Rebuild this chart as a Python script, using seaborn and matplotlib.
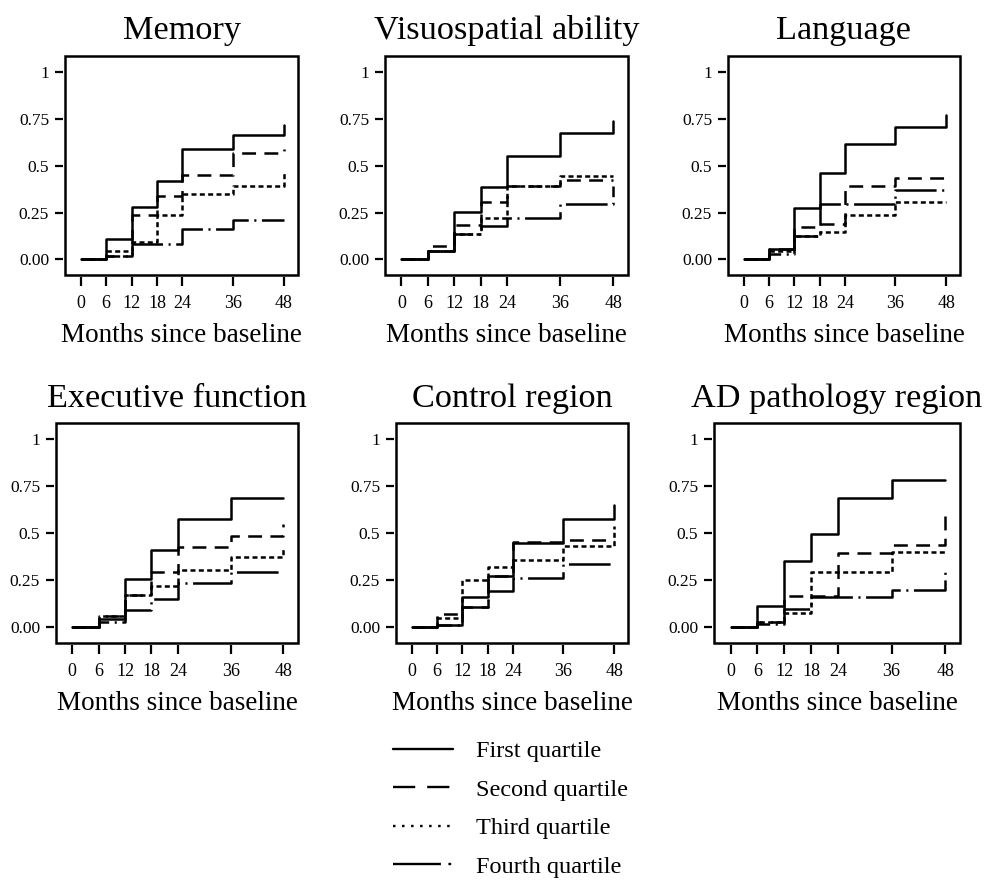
import matplotlib
matplotlib.use("Agg")
import matplotlib.pyplot as plt
import numpy as np
import pandas as pd
import seaborn as sns
from matplotlib.patches import Rectangle
from matplotlib.lines import Line2D

# ---------------- data ----------------
months = [0, 6, 12, 18, 24, 36, 48]
quartiles = ["First quartile", "Second quartile", "Third quartile", "Fourth quartile"]
panels = ["Memory", "Visuospatial ability", "Language",
          "Executive function", "Control region", "AD pathology region"]
x_ticks = [0, 6, 12, 18, 24, 36, 48]
y_ticks = [0, 0.25, 0.5, 0.75, 1]
y_tick_labels = ["0.00", "0.25", "0.5", "0.75", "1"]

memory_q1 = [0, 0.110, 0.278, 0.420, 0.588, 0.662, 0.717]
memory_q2 = [0, 0.018, 0.235, 0.336, 0.451, 0.566, 0.588]
memory_q3 = [0, 0.044, 0.092, 0.235, 0.350, 0.389, 0.469]
memory_q4 = [0, 0.018, 0.083, 0.083, 0.163, 0.212, 0.212]

visuo_q1 = [0, 0.044, 0.253, 0.384, 0.552, 0.673, 0.738]
visuo_q2 = [0, 0.071, 0.182, 0.304, 0.389, 0.421, 0.421]
visuo_q3 = [0, 0.044, 0.133, 0.221, 0.389, 0.446, 0.446]
visuo_q4 = [0, 0.044, 0.133, 0.177, 0.221, 0.296, 0.390]

language_q1 = [0, 0.058, 0.274, 0.460, 0.614, 0.708, 0.770]
language_q2 = [0, 0.058, 0.172, 0.190, 0.389, 0.434, 0.450]
language_q3 = [0, 0.044, 0.124, 0.145, 0.235, 0.304, 0.304]
language_q4 = [0, 0.027, 0.124, 0.297, 0.297, 0.368, 0.368]

exec_q1 = [0, 0.044, 0.258, 0.409, 0.577, 0.684, 0.684]
exec_q2 = [0, 0.062, 0.174, 0.293, 0.426, 0.483, 0.547]
exec_q3 = [0, 0.062, 0.174, 0.217, 0.306, 0.373, 0.426]
exec_q4 = [0, 0.027, 0.092, 0.151, 0.234, 0.293, 0.293]

control_q1 = [0, 0.014, 0.160, 0.275, 0.448, 0.574, 0.648]
control_q2 = [0, 0.071, 0.107, 0.275, 0.455, 0.462, 0.462]
control_q3 = [0, 0.050, 0.249, 0.320, 0.355, 0.432, 0.540]
control_q4 = [0, 0.014, 0.107, 0.192, 0.263, 0.334, 0.334]

ad_q1 = [0, 0.113, 0.354, 0.496, 0.685, 0.779, 0.779]
ad_q2 = [0, 0.030, 0.166, 0.166, 0.396, 0.437, 0.632]
ad_q3 = [0, 0.030, 0.078, 0.296, 0.296, 0.402, 0.402]
ad_q4 = [0, 0.020, 0.100, 0.163, 0.163, 0.200, 0.313]

panel_series = {
    "Memory": [memory_q1, memory_q2, memory_q3, memory_q4],
    "Visuospatial ability": [visuo_q1, visuo_q2, visuo_q3, visuo_q4],
    "Language": [language_q1, language_q2, language_q3, language_q4],
    "Executive function": [exec_q1, exec_q2, exec_q3, exec_q4],
    "Control region": [control_q1, control_q2, control_q3, control_q4],
    "AD pathology region": [ad_q1, ad_q2, ad_q3, ad_q4],
}

rows = []
for p in panels:
    for q, vals in zip(quartiles, panel_series[p]):
        for m, v in zip(months, vals):
            rows.append({"panel": p, "quartile": q, "month": m, "value": v})
df = pd.DataFrame(rows)

# ---------------- style ----------------
sns.set_style("white")
plt.rcParams["font.family"] = ["Liberation Serif", "DejaVu Serif"]
plt.rcParams["lines.scale_dashes"] = False
for k in ["text.color", "axes.labelcolor", "xtick.color", "ytick.color"]:
    plt.rcParams[k] = "black"

W, H = 987, 880
fig = plt.figure(figsize=(W / 100, H / 100), dpi=100)

# axes boxes in pixels: left, top, right, bottom
boxes = [(65, 56, 298, 275), (385, 56, 628, 275), (728, 56, 960, 275),
         (56, 423, 298, 643), (396, 423, 628, 643), (714, 423, 960, 643)]

plot_dashes = {
    "First quartile": "",
    "Second quartile": (10, 6),
    "Third quartile": (3.6, 2.4),
    "Fourth quartile": (30, 4, 1.5, 4),
}

for i, (name, (l, t, r, b)) in enumerate(zip(panels, boxes)):
    ax = fig.add_axes([l / W, 1 - b / H, (r - l) / W, (b - t) / H])
    sub = df[df["panel"] == name]
    sns.lineplot(data=sub, x="month", y="value", style="quartile",
                 style_order=quartiles, dashes=plot_dashes, color="black",
                 linewidth=1.8, drawstyle="steps-post", estimator=None,
                 legend=False, ax=ax)
    ax.set_xlim(-3.7, 51.3)
    ax.set_ylim(-0.083, 1.084)
    ax.set_xticks(x_ticks)
    ax.set_xticklabels([str(v) for v in x_ticks])
    ax.set_yticks(y_ticks)
    ax.set_yticklabels(y_tick_labels)
    ax.grid(False)
    for s in ax.spines.values():
        s.set_visible(False)
    ax.spines["left"].set_position(("outward", 1.5))
    ax.spines["bottom"].set_position(("outward", 1.5))
    ax.add_patch(Rectangle((0, 0), 1, 1, transform=ax.transAxes, fill=False,
                           lw=1.8, ec="black", clip_on=False, zorder=5))
    ax.tick_params(axis="x", direction="out", length=6.5, width=1.6, pad=6.5,
                   labelsize=13, bottom=True)
    ax.tick_params(axis="y", direction="out", length=6.0, width=1.6, pad=4,
                   labelsize=12.5, left=True)
    ax.set_xlabel("Months since baseline", fontsize=19.5, labelpad=8)
    ax.set_ylabel("")
    ax.set_title(name, fontsize=24.7, pad=12.5 if i < 3 else 11.7)

legend_dashes = ["", (16, 8.6), (1.8, 4.7), (34.5, 5.4, 2, 10)]
handles = []
for q, d in zip(quartiles, legend_dashes):
    ln = Line2D([0], [1], color="black", lw=1.7, label=q)
    ln.set_dashes(d)
    handles.append(ln)
fig.legend(handles=handles, loc="upper left",
           bbox_to_anchor=(393 / W, 1 - 740 / H), frameon=False,
           borderpad=0, borderaxespad=0, handlelength=2.47,
           handletextpad=0.95, labelspacing=0.68, fontsize=17.5)

fig.savefig("out.png", dpi=100)
